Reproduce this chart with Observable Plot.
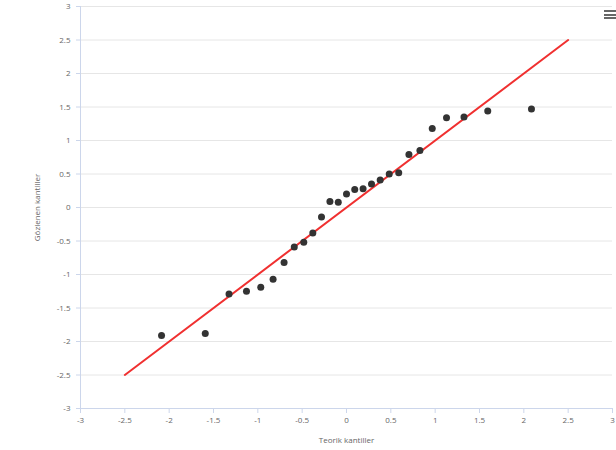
<!DOCTYPE html>
<html>
<head>
<meta charset="utf-8">
<script src="https://cdn.jsdelivr.net/npm/d3@7"></script>
<script src="https://cdn.jsdelivr.net/npm/@observablehq/plot@0.6"></script>
<style>
  html, body { margin: 0; padding: 0; background: #fff; }
  #wrap { position: relative; width: 616px; height: 450px; font-family: "Open Sans", "DejaVu Sans", sans-serif; }
  #menu { position: absolute; right: 0px; top: 10px; width: 12px; height: 9px; display: flex; flex-direction: column; justify-content: space-between; }
  #menu span { display: block; height: 2px; background: #666; }
</style>
</head>
<body>
<div id="wrap"><div id="menu"><span></span><span></span><span></span></div></div>
<script>
// Theoretical quantiles (x) and observed quantiles (y)
const theoretical = [-2.086, -1.593, -1.325, -1.128, -0.967, -0.828, -0.704, -0.589, -0.482, -0.380, -0.282, -0.187, -0.093, 0, 0.093, 0.187, 0.282, 0.380, 0.482, 0.589, 0.704, 0.828, 0.967, 1.128, 1.325, 1.593, 2.086];
const observed = [-1.91, -1.88, -1.29, -1.25, -1.19, -1.07, -0.82, -0.59, -0.52, -0.38, -0.14, 0.09, 0.08, 0.20, 0.27, 0.28, 0.35, 0.41, 0.50, 0.52, 0.79, 0.85, 1.18, 1.34, 1.35, 1.44, 1.47];
// Reference line endpoints (y = x)
const refX = [-2.5, 2.5];
const refY = [-2.5, 2.5];
const xTicks = [-3, -2.5, -2, -1.5, -1, -0.5, 0, 0.5, 1, 1.5, 2, 2.5, 3];
const yTicks = [-3, -2.5, -2, -1.5, -1, -0.5, 0, 0.5, 1, 1.5, 2, 2.5, 3];
const xTitle = "Teorik kantiller";
const yTitle = "Gözlenen kantiller";

const points = theoretical.map((x, i) => ({x, y: observed[i]}));
const refLine = refX.map((x, i) => ({x, y: refY[i]}));
const fmt = d => String(d);

const chart = Plot.plot({
  width: 616,
  height: 450,
  marginLeft: 80,
  marginRight: 4,
  marginTop: 6,
  marginBottom: 42,
  style: {background: "#fff", fontFamily: "'Open Sans', 'DejaVu Sans', sans-serif", fontSize: "8px", color: "#666"},
  x: {domain: [-3, 3]},
  y: {domain: [-3, 3]},
  marks: [
    Plot.gridY(yTicks, {stroke: "#e6e6e6", strokeOpacity: 1}),
    Plot.ruleX([-3], {stroke: "#ccd6eb"}),
    Plot.ruleY([-3], {stroke: "#ccd6eb"}),
    Plot.axisX(xTicks, {tickFormat: fmt, tickSize: 5, tickPadding: 4, stroke: "#ccd6eb", fill: "#666",
      label: xTitle, labelAnchor: "center", labelArrow: "none", labelOffset: 34}),
    Plot.axisY(yTicks, {tickFormat: fmt, tickSize: 4, tickPadding: 6, stroke: "#ccd6eb", fill: "#666",
      label: yTitle, labelAnchor: "center", labelArrow: "none", labelOffset: 46}),
    Plot.line(refLine, {x: "x", y: "y", stroke: "#f03030", strokeWidth: 2}),
    Plot.dot(points, {x: "x", y: "y", r: 3.5, fill: "#333", stroke: "none"})
  ]
});
document.getElementById("wrap").prepend(chart);
</script>
</body>
</html>
